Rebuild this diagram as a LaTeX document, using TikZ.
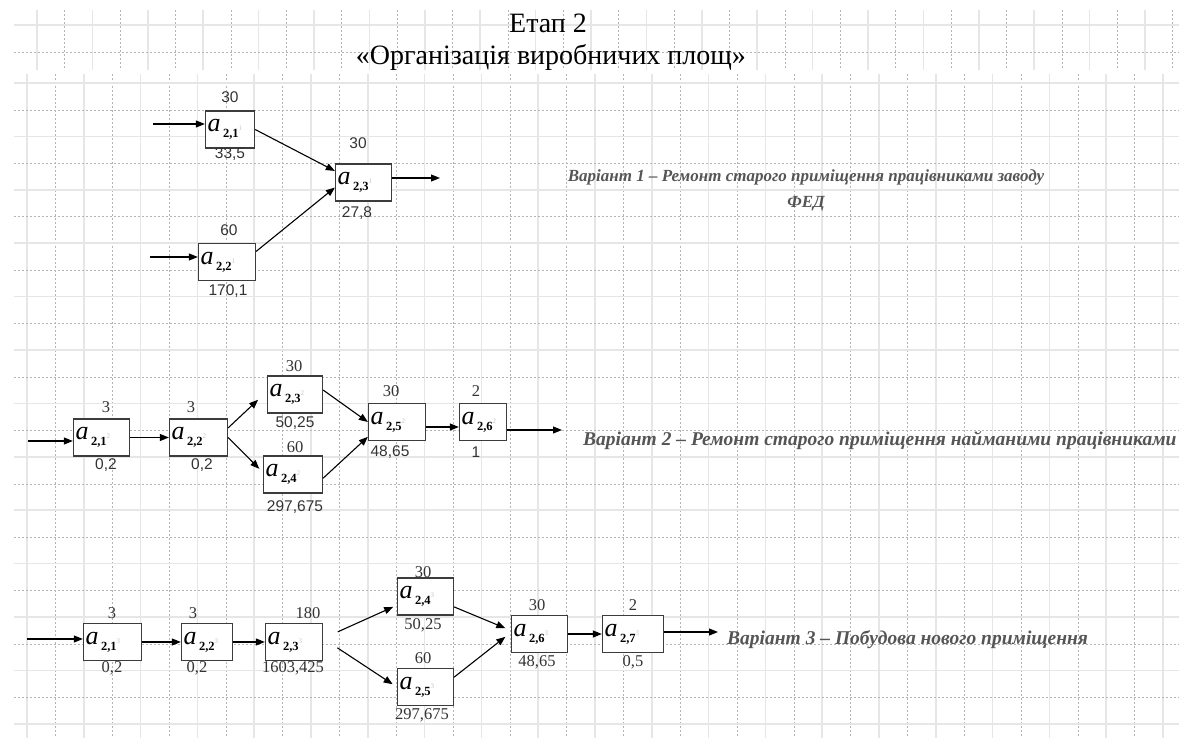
\documentclass[tikz,border=0pt]{standalone}
\usepackage{fontspec}
\setmainfont{Liberation Serif}
\setsansfont{Liberation Sans}
\usetikzlibrary{arrows.meta}

\definecolor{boxc}{HTML}{3C3C3C}
\definecolor{txtc}{HTML}{333333}
\definecolor{varc}{HTML}{555555}
\definecolor{gridc}{HTML}{E6E6E6}
\definecolor{gdash}{HTML}{B4B4B4}

% box text: a with subscript and a faint variant mark
\newcommand{\avar}[3][44pt]{\makebox[#1][l]{\raisebox{-2pt}{\fontsize{26}{26}\selectfont\itshape a}\hspace{2.5pt}\raisebox{-8pt}{\fontsize{12.5}{12.5}\selectfont\bfseries #2}\raisebox{-1pt}{\fontsize{7}{7}\selectfont\color{gray!45}#3}}}

\begin{document}
\begin{tikzpicture}[x=1pt, y=-1pt,
  blk/.style = {draw=boxc, line width=1.3pt, minimum height=37pt, inner sep=2pt, fill=white},
  num/.style = {text=txtc, font=\fontsize{16.5}{16.5}\selectfont, inner sep=0pt},
  snum/.style = {text=txtc, font=\sffamily\fontsize{15.5}{15.5}\selectfont, inner sep=0pt},
  var/.style = {text=varc, font=\bfseries\itshape\fontsize{19.5}{26}\selectfont, inner sep=0pt},
  arr/.style = {-{Triangle[length=9pt,width=7pt]}, line width=1.1pt},
  gsol/.style = {gridc, line width=1.5pt},
  gdsh/.style = {gdash, line width=0.6pt, dash pattern=on 2pt off 2pt}]

\fill[white] (0,0) rectangle (1179,738);
\useasboundingbox (0,0) rectangle (1179,738);

%% grid
\foreach \gx in {37,92.4,...,1175} \draw[gsol] (\gx,10) -- (\gx,70);
\foreach \gx in {64.7,120.1,...,1175} \draw[gdsh] (\gx,10) -- (\gx,70);
\foreach \gx in {27,83.8,...,1179} \draw[gsol] (\gx,74) -- (\gx,738);
\foreach \gx in {55.4,112.2,...,1179} \draw[gdsh] (\gx,74) -- (\gx,738);
\draw[gsol] (14,25) -- (1179,25);
\draw[gdsh] (14,52) -- (1179,52);
\foreach \gy in {83,136.4,...,738} \draw[gsol] (14,\gy) -- (1179,\gy);
\foreach \gy in {110,163.4,...,738} \draw[gdsh] (14,\gy) -- (1179,\gy);

%% title
\node[text=black, font=\fontsize{28}{28}\selectfont] (ttl) at (548,23) {Етап 2};
\node[text=black, font=\fontsize{28}{28}\selectfont] (sttl) at (551,57) {«Організація виробничих площ»};

%% variant 1
\node[blk] (v1a) at (230,129.5) {\avar[45pt]{2,1}{1}};
\node[blk] (v1b) at (227,262) {\avar[53pt]{2,2}{1}};
\node[blk] (v1c) at (363.5,182.5) {\avar[52pt]{2,3}{1}};
\node[snum] (v1at) at (230,97) {30};
\node[snum] (v1ab) at (230,154) {33,5};
\node[snum] (v1bt) at (229,230) {60};
\node[snum] (v1bb) at (228,291) {170,1};
\node[snum] (v1ct) at (358,143) {30};
\node[snum] (v1cb) at (357,213) {27,8};
\coordinate (v1i1) at (153,124);
\coordinate (v1i2) at (150,257);
\coordinate (v1o) at (440,178);
\draw[arr] (v1i1) -- (v1i1 -| v1a.west);
\draw[arr] (v1i2) -- (v1i2 -| v1b.west);
\draw[arr] (v1a.east) -- (v1c.158);
\draw[arr] (v1b.20) -- (v1c.190);
\draw[arr] (v1o -| v1c.east) -- (v1o);
\node[var, align=center, font=\bfseries\itshape\fontsize{17}{26}\selectfont] (v1txt) at (806,190) {Варіант 1 – Ремонт старого приміщення працівниками заводу\\ФЕД};

%% variant 2
\node[blk] (v2a) at (101.5,437.5) {\avar[52pt]{2,1}{2}};
\node[blk] (v2b) at (198.5,437.5) {\avar[54pt]{2,2}{2}};
\node[blk] (v2c) at (295,394.5) {\avar[51pt]{2,3}{2}};
\node[blk] (v2d) at (293,474.5) {\avar[55pt]{2,4}{2}};
\node[blk] (v2e) at (397,422) {\avar[53pt]{2,5}{2}};
\node[blk] (v2f) at (483,422) {\avar[43pt]{2,6}{2}};
\node[num] (v2at) at (106,407) {3};
\node[snum] (v2ab) at (106,465) {0,2};
\node[num] (v2bt) at (191,407) {3};
\node[snum] (v2bb) at (202,465) {0,2};
\node[num] (v2ct) at (294,366) {30};
\node[snum] (v2cb) at (295,423) {50,25};
\node[num] (v2dt) at (295,447) {60};
\node[snum] (v2db) at (295,507) {297,675};
\node[num] (v2et) at (391,391) {30};
\node[snum] (v2eb) at (390,452) {48,65};
\node[num] (v2ft) at (476,391) {2};
\node[snum] (v2fb) at (476,452) {1};
\coordinate (v2i) at (28,441);
\coordinate (v2o) at (562,430);
\draw[arr] (v2i) -- (v2i -| v2a.west);
\draw[arr] (v2a.east) -- (v2b.west);
\draw[arr, shorten >=12pt] (v2b.18) -- (v2c.174);
\draw[arr, shorten >=5pt] (v2b.east) -- (v2d.176);
\draw[arr] (v2c.9) -- (v2e.west);
\draw[arr] (v2d.353) -- (v2e.207);
\draw[arr] ([yshift=-5pt]v2e.east) -- ([yshift=-5pt]v2f.west);
\draw[arr] (v2o -| v2f.east) -- (v2o);
\node[var, anchor=west] (v2txt) at (583,441) {Варіант 2 – Ремонт старого приміщення найманими працівниками};

%% variant 3
\node[blk] (v3a) at (112.5,642) {\avar[54pt]{2,1}{3}};
\node[blk] (v3b) at (207,642) {\avar[47pt]{2,2}{3}};
\node[blk] (v3c) at (294,642) {\avar[53pt]{2,3}{3}};
\node[blk] (v3d) at (425.5,596.5) {\avar[52pt]{2,4}{3}};
\node[blk] (v3e) at (425.5,687) {\avar[52pt]{2,5}{3}};
\node[blk] (v3f) at (539.5,634) {\avar[52pt]{2,6}{3}};
\node[blk] (v3g) at (633,634) {\avar[57pt]{2,7}{3}};
\node[num] (v3at) at (112,613) {3};
\node[num] (v3ab) at (112,668) {0,2};
\node[num] (v3bt) at (193,613) {3};
\node[num] (v3bb) at (197,668) {0,2};
\node[num] (v3ct) at (308,613) {180};
\node[num] (v3cb) at (293,668) {1603,425};
\node[num] (v3dt) at (423,572) {30};
\node[num] (v3db) at (423,625) {50,25};
\node[num] (v3et) at (423,658) {60};
\node[num] (v3eb) at (422,715) {297,675};
\node[num] (v3ft) at (537,605) {30};
\node[num] (v3fb) at (537,662) {48,65};
\node[num] (v3gt) at (633,605) {2};
\node[num] (v3gb) at (633,662) {0,5};
\coordinate (v3i) at (27,639);
\coordinate (v3o) at (718,632);
\draw[arr] (v3i) -- (v3i -| v3a.west);
\draw[arr] (v3a.east) -- (v3b.west);
\draw[arr] (v3b.east) -- (v3c.west);
\draw[arr, shorten <=16pt, shorten >=4pt] (v3c.7) -- (v3d.197);
\draw[arr, shorten <=17pt, shorten >=5pt] (v3c.7) -- (v3e.west);
\draw[arr, shorten >=6pt] (v3d.340) -- (v3f.173);
\draw[arr, shorten >=7pt] (v3e.19) -- (v3f.177);
\draw[arr] (v3f.east) -- (v3g.west);
\draw[arr] (v3o -| v3g.east) -- (v3o);
\node[var, anchor=west] (v3txt) at (727,640) {Варіант 3 – Побудова нового приміщення};

\end{tikzpicture}
\end{document}
